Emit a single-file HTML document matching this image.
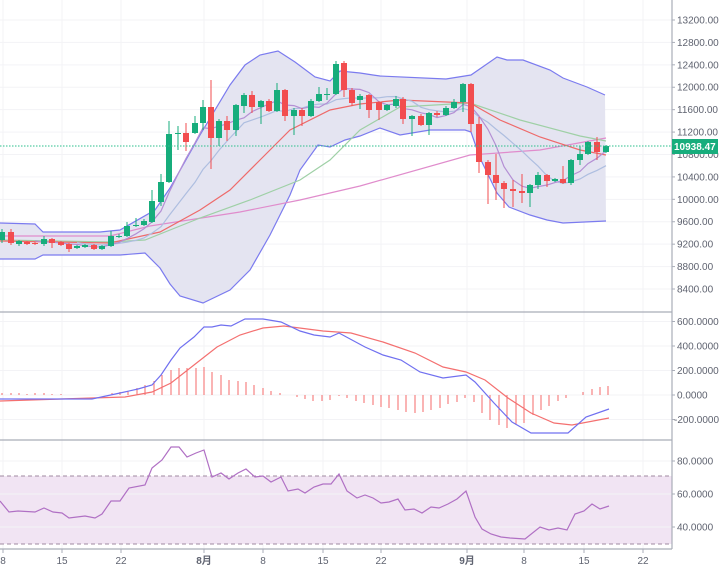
<!DOCTYPE html>
<html><head><meta charset="utf-8"><style>
html,body{margin:0;padding:0;background:#fff;}
svg{display:block;font-family:"Liberation Sans","Noto Sans CJK SC",sans-serif;}
</style></head><body>
<svg id="c" width="720" height="571" xmlns="http://www.w3.org/2000/svg"></svg>
<script>
const S=document.getElementById('c');let h='';
const pl=a=>a.map(p=>p.join(',')).join(' ');
const xs=[3,62,121,204,263,323,381,467,524,584,643];
xs.forEach(x=>{h+=`<line x1="${x}" y1="0" x2="${x}" y2="549" stroke="#f3f3f6"/>`;});
const prices=[13200,12800,12400,12000,11600,11200,10800,10400,10000,9600,9200,8800,8400];
const py=p=>20+(13200-p)*0.05604;
prices.forEach(p=>{h+=`<line x1="0" y1="${py(p)}" x2="672" y2="${py(p)}" stroke="#f3f3f6"/>`;});
const up=[[0,223],[35,224],[43,232],[100,232],[120,230],[155,210],[170,188],[200,135],[230,85],[245,65],[260,55],[278,51],[295,62],[315,77],[330,81],[340,71],[360,73],[373,75],[380,76],[446,79],[471,75],[497,57],[507,60],[523,60],[550,70],[563,78],[587,87],[605,95]];
const lo=[[0,259],[35,259],[43,255],[120,255],[145,253],[160,268],[170,284],[180,296],[203,303],[230,290],[250,270],[270,235],[290,195],[300,170],[318,145],[330,147],[345,140],[360,136],[380,128],[400,135],[430,130],[465,130],[471,132],[480,158],[497,193],[509,207],[530,215],[547,220],[563,223],[606,221]];
h+=`<polygon points="${pl(up)} ${pl(lo.slice().reverse())}" fill="#e4e4f1"/>`;
h+=`<polyline points="${pl(up)}" fill="none" stroke="#7b7bef" stroke-width="1.2"/>`;
h+=`<polyline points="${pl(lo)}" fill="none" stroke="#7b7bef" stroke-width="1.2"/>`;
const C=[[2,240,232,229,243],[11,232,243,229,245],[19,244,241,240,246],[27,242,244,241,245],[35,243,244,242,245],[44,244,239,236,246],[52,239,243,238,248],[61,242,245,241,246],[69,244,249,243,252],[77,248,246,245,249],[85,247,245,244,248],[94,245,249,244,250],[102,249,246,245,250],[111,246,236,231,247],[119,237,236,234,238],[127,236,226,222,237],[136,226,225,218,227],[144,225,221,219,226],[152,222,201,190,223],[161,202,182,174,206],[169,182,134,121,183],[178,134,133,126,150],[186,133,142,123,151],[195,133,123,116,134],[203,123,107,100,130],[211,107,138,80,169],[219,138,121,119,146],[227,121,130,116,141],[236,130,105,104,136],[244,106,95,93,113],[252,95,107,91,113],[261,107,101,100,124],[269,101,111,99,112],[277,111,90,83,112],[285,90,116,89,121],[294,116,110,108,135],[302,110,116,108,126],[311,116,101,99,117],[319,101,94,87,102],[327,95,94,88,100],[336,94,64,61,95],[344,63,90,61,97],[352,90,103,88,106],[360,100,96,94,109],[369,95,110,94,118],[379,102,110,101,120],[387,110,105,104,111],[396,106,99,96,108],[403,99,119,97,124],[412,119,116,115,136],[421,116,125,114,126],[429,125,113,112,135],[437,113,115,111,117],[446,115,108,106,116],[454,108,102,99,109],[463,102,84,83,112],[471,84,124,83,132],[479,124,162,117,173],[488,162,175,160,204],[496,175,183,154,200],[504,183,189,181,208],[513,189,191,180,207],[522,191,193,174,203],[530,193,185,184,207],[538,185,175,172,189],[547,175,181,174,187],[555,181,179,178,182],[563,179,183,166,184],[571,183,160,159,185],[580,160,154,146,165],[588,154,142,141,155],[597,142,152,137,160],[606,152,146,145,153]];
const closes=C.map(c=>[c[0],c[2]]);
function ma(n){const r=[];for(let i=n-1;i<closes.length;i++){let s=0;for(let j=i-n+1;j<=i;j++)s+=closes[j][1];r.push([closes[i][0],(s/n).toFixed(1)]);}return r;}
const pink=[[0,236],[110,236],[150,226],[240,212],[300,200],[360,186],[470,155],[540,150],[606,138]];
const green=[[0,240],[110,242],[145,240],[200,218],[250,200],[300,180],[330,160],[360,130],[400,107],[470,103],[520,120],[580,136],[606,141]];
const red=[[0,241],[110,243],[160,232],[200,210],[230,190],[260,160],[290,130],[330,110],[360,104],[400,100],[470,103],[500,120],[540,137],[580,150],[606,155]];
h+=`<polyline points="${pl(pink)}" fill="none" stroke="#e08ccc" stroke-width="1.2"/>`;
h+=`<polyline points="${pl(green)}" fill="none" stroke="#9fd0a6" stroke-width="1.2"/>`;
h+=`<polyline points="${pl(red)}" fill="none" stroke="#ee6a6a" stroke-width="1.2"/>`;
h+=`<polyline points="${pl(ma(10))}" fill="none" stroke="#aebee0" stroke-width="1.2"/>`;
h+=`<polyline points="${pl(ma(5))}" fill="none" stroke="#b48fd4" stroke-width="1.2"/>`;
C.forEach(([x,o,c,hh,l])=>{const col=c<o?'#17ad7c':'#f24d4f';const t=Math.min(o,c),b=Math.max(o,c);
h+=`<line x1="${x}" y1="${hh}" x2="${x}" y2="${l}" stroke="${col}" stroke-width="1"/><rect x="${x-3}" y="${t}" width="6" height="${Math.max(1,b-t)}" fill="${col}"/>`;});
h+=`<line x1="0" y1="146" x2="672" y2="146" stroke="#2bbf8c" stroke-dasharray="1.5,1.5"/>`;
const my=v=>395-v*0.1225;
[600,400,200,0,-200].forEach(v=>{h+=`<line x1="0" y1="${my(v)}" x2="672" y2="${my(v)}" stroke="#f3f3f6"/>`;});
const hist=[[2,393],[11,393],[19,393],[27,394],[35,393],[44,393],[52,394],[61,394],[112,393],[120,392],[128,391],[137,388],[145,385],[154,381],[162,375],[171,370],[179,368],[187,368],[196,368],[204,367],[212,372],[221,375],[229,380],[238,381],[246,382],[254,385],[263,388],[271,391],[280,393],[297,397],[305,399],[313,401],[322,401],[330,400],[339,396],[347,398],[356,401],[364,403],[373,405],[381,407],[389,408],[398,410],[406,412],[415,413],[423,412],[431,410],[440,408],[448,404],[457,402],[465,398],[474,402],[482,413],[490,420],[499,425],[507,428],[516,425],[524,423],[533,415],[541,410],[549,406],[558,401],[566,398],[575,395],[583,392],[592,389],[600,387],[608,386]];
hist.forEach(([x,y])=>{h+=`<line x1="${x}" y1="395" x2="${x}" y2="${y}" stroke="#f46a6a" stroke-width="1"/>`;});
const dif=[[0,399],[92,399],[120,393],[138,389],[152,385],[161,375],[171,360],[180,348],[194,337],[204,327],[212,327],[221,325],[231,326],[245,319],[263,319],[281,322],[300,331],[314,335],[330,337],[339,333],[365,347],[383,355],[401,360],[420,372],[443,378],[466,375],[475,382],[494,403],[512,422],[531,433],[568,433],[586,417],[609,409]];
const sig=[[0,401],[92,398],[125,397],[152,392],[171,383],[194,365],[217,347],[240,335],[263,328],[284,326],[323,331],[351,333],[383,342],[415,353],[443,367],[466,372],[485,380],[508,398],[531,413],[554,423],[572,425],[609,418]];
h+=`<polyline points="${pl(sig)}" fill="none" stroke="#f47070" stroke-width="1.2"/>`;
h+=`<polyline points="${pl(dif)}" fill="none" stroke="#7070f0" stroke-width="1.2"/>`;
h+=`<rect x="0" y="476" width="672" height="68" fill="#f1e4f3"/>`;
[461,494,527].forEach(y=>{h+=`<line x1="0" y1="${y}" x2="672" y2="${y}" stroke="#f3f3f6"/>`;});
h+=`<line x1="0" y1="476" x2="672" y2="476" stroke="#a08aa0" stroke-dasharray="4,3"/><line x1="0" y1="544" x2="672" y2="544" stroke="#a08aa0" stroke-dasharray="4,3"/>`;
const rsi=[[0,501],[9,512],[18,511],[35,512],[44,508],[53,512],[62,513],[69,518],[85,516],[95,518],[102,514],[111,501],[120,501],[129,488],[145,485],[152,468],[162,460],[171,447],[179,447],[187,457],[196,453],[204,450],[212,477],[221,473],[229,479],[238,473],[246,469],[255,477],[263,476],[271,482],[281,477],[288,491],[298,489],[305,493],[314,487],[323,484],[331,484],[339,474],[347,491],[357,498],[365,495],[373,498],[381,503],[389,502],[398,499],[405,510],[414,509],[422,513],[431,507],[439,508],[448,504],[457,499],[466,491],[475,517],[482,529],[491,534],[501,537],[510,538],[525,539],[540,527],[549,530],[558,528],[567,530],[575,514],[584,511],[592,504],[600,509],[609,506]];
h+=`<polyline points="${pl(rsi)}" fill="none" stroke="#b070c4" stroke-width="1.2"/>`;
h+=`<line x1="0" y1="312" x2="672" y2="312" stroke="#a9adb8" stroke-width="1.2"/><line x1="0" y1="440" x2="672" y2="440" stroke="#a9adb8" stroke-width="1.2"/><line x1="0" y1="549" x2="672" y2="549" stroke="#a9adb8" stroke-width="1.2"/><line x1="672" y1="0" x2="672" y2="549" stroke="#a9adb8" stroke-width="1.2"/>`;
prices.forEach(p=>{const y=py(p);h+=`<line x1="672" y1="${y}" x2="675" y2="${y}" stroke="#a9adb8"/><text x="677" y="${y+3.5}" font-size="10" fill="#5f6370">${p}.00</text>`;});
[[600,'600.0000'],[400,'400.0000'],[200,'200.0000'],[0,'0.0000'],[-200,'-200.0000']].forEach(([v,t])=>{const y=my(v);h+=`<line x1="672" y1="${y}" x2="675" y2="${y}" stroke="#a9adb8"/><text x="${v<0?674:677}" y="${y+3.5}" font-size="10" fill="#5f6370">${t}</text>`;});
[[461,'80.0000'],[494,'60.0000'],[527,'40.0000']].forEach(([y,t])=>{h+=`<line x1="672" y1="${y}" x2="675" y2="${y}" stroke="#a9adb8"/><text x="677" y="${y+3.5}" font-size="10" fill="#5f6370">${t}</text>`;});
h+=`<rect x="672" y="139" width="46" height="15" fill="#17ad7c"/><text x="674" y="150" font-size="10" font-weight="bold" fill="#fff">10938.47</text>`;
const lab=['8','15','22','8月','8','15','22','9月','8','15','22'];
xs.forEach((x,i)=>{h+=`<line x1="${x}" y1="549" x2="${x}" y2="553" stroke="#a9adb8"/><text x="${x}" y="564" font-size="10" text-anchor="middle" fill="#5f6370" ${lab[i].includes('月')?'font-weight="bold"':''}>${lab[i]}</text>`;});
S.innerHTML=h;
</script>
</body></html>
